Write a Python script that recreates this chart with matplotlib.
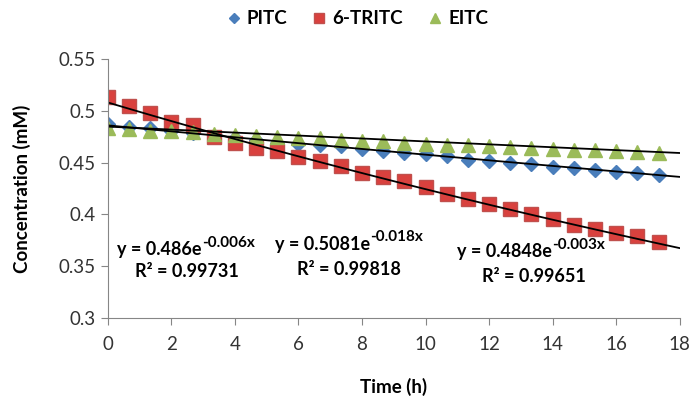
import numpy as np
import matplotlib
matplotlib.use('Agg')
import matplotlib.pyplot as plt

plt.rcParams['font.family'] = ['Lato', 'DejaVu Sans']

# sampling times (h), every 40 min
time_h = [i * 2 / 3 for i in range(27)]

pitc = [0.487, 0.484, 0.483, 0.481, 0.479, 0.476, 0.474, 0.472, 0.469, 0.468,
        0.467, 0.466, 0.463, 0.461, 0.459, 0.458, 0.456, 0.453, 0.452, 0.450,
        0.449, 0.446, 0.445, 0.443, 0.441, 0.440, 0.438]
tritc = [0.513, 0.505, 0.498, 0.489, 0.486, 0.475, 0.469, 0.464, 0.461, 0.455,
         0.452, 0.447, 0.440, 0.436, 0.432, 0.426, 0.420, 0.415, 0.410, 0.405,
         0.400, 0.396, 0.390, 0.386, 0.382, 0.379, 0.373]
eitc = [0.483, 0.482, 0.481, 0.481, 0.480, 0.478, 0.477, 0.476, 0.475, 0.474,
        0.474, 0.472, 0.471, 0.471, 0.469, 0.468, 0.467, 0.467, 0.466, 0.465,
        0.464, 0.463, 0.462, 0.462, 0.461, 0.460, 0.459]

# exponential trendlines  y = a * exp(b x)
fit_a = [0.486, 0.5081, 0.4848]
fit_b = [-0.006, -0.018, -0.003]
fit_r2 = ['0.99731', '0.99818', '0.99651']

fig = plt.figure(figsize=(7, 4.13), dpi=100)
ax = fig.add_axes([0.154, 0.23, 0.817, 0.627])

ax.plot(time_h, pitc, ls='none', marker='D', ms=7, color='#4a7ebb', label='PITC')
ax.plot(time_h, tritc, ls='none', marker='s', ms=10, color='#d9413e',
        mec='#c0504d', label='6-TRITC')
ax.plot(time_h, eitc, ls='none', marker='^', ms=10, color='#9bbb59', label='EITC')

xfit = np.linspace(0, 18, 100)
for a, b in zip(fit_a, fit_b):
    ax.plot(xfit, a * np.exp(b * xfit), color='black', lw=1.3)

ax.set_xlim(0, 18)
ax.set_ylim(0.3, 0.55)
ax.set_xticks(range(0, 19, 2))
ax.set_yticks([0.3, 0.35, 0.4, 0.45, 0.5, 0.55])
ax.set_yticklabels(['0.3', '0.35', '0.4', '0.45', '0.5', '0.55'])
ax.tick_params(labelsize=13.5, color='#868686', length=5, labelcolor='#333333')
ax.tick_params(axis='x', pad=8)
for s in ['top', 'right']:
    ax.spines[s].set_visible(False)
for s in ['left', 'bottom']:
    ax.spines[s].set_color('#868686')

ax.set_xlabel('Time (h)', fontsize=13.5, fontweight='bold', labelpad=18)
ax.set_ylabel('Concentration (mM)', fontsize=13.5, fontweight='bold', labelpad=20)

# equation labels: left x of equation, centre x of R² line, y of both lines
eq_left = [0.3, 5.25, 11.0]
r2_x = [2.5, 7.6, 13.4]
eq_y = [0.366, 0.371, 0.364]
r2_y = [0.345, 0.347, 0.340]
for xl, xr, ye, yr, a, b, r2 in zip(eq_left, r2_x, eq_y, r2_y, fit_a, fit_b, fit_r2):
    base = ax.text(xl, ye, 'y = %se' % a, fontsize=13, fontweight='bold',
                   ha='left', va='center')
    ax.annotate('%sx' % b, xy=(1.0, 0.5), xycoords=base, fontsize=11,
                fontweight='bold', ha='left', va='bottom')
    ax.text(xr, yr, 'R² = ' + r2, fontsize=13, fontweight='bold',
            ha='center', va='center')

leg = fig.legend(loc='center', bbox_to_anchor=(0.509, 0.955), ncol=3,
                 frameon=False, handletextpad=0.2, columnspacing=1.2,
                 markerscale=0.75, handlelength=1.0,
                 prop={'weight': 'bold', 'size': 13.5})

fig.savefig('out.png', dpi=100)
